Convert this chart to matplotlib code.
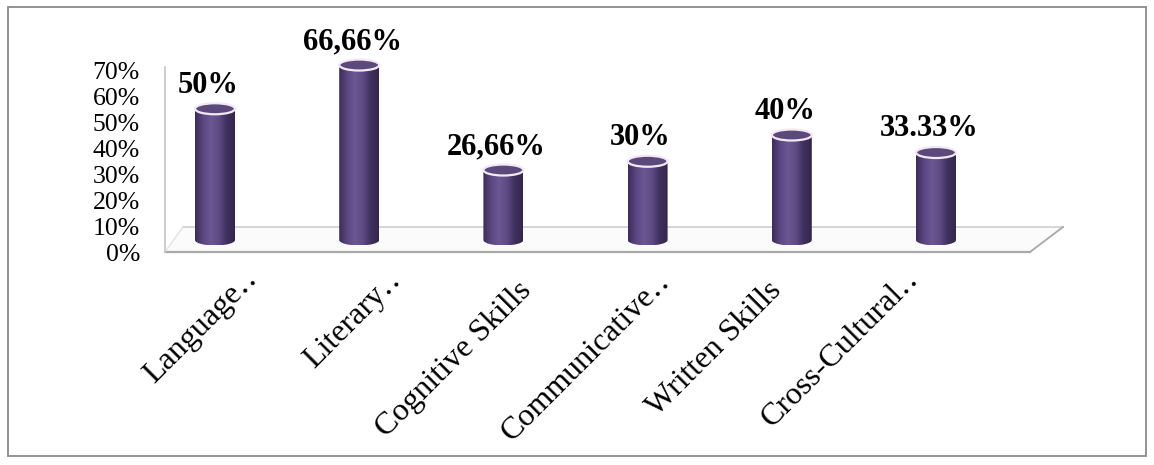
import numpy as np
import matplotlib
matplotlib.use("Agg")
import matplotlib.pyplot as plt
from matplotlib.patches import Ellipse, Polygon, Rectangle, PathPatch
from matplotlib.path import Path
from matplotlib.colors import LinearSegmentedColormap
from matplotlib.lines import Line2D
import matplotlib.transforms as mtransforms

# skills and share of answers (%)
categories = ["Language\u2025", "Literary\u2025", "Cognitive Skills",
              "Communicative\u2025", "Written Skills", "Cross-Cultural\u2025"]
values = [50, 66.66, 26.66, 30, 40, 33.33]
value_labels = ["50%", "66,66%", "26,66%", "30%", "40%", "33.33%"]
tick_values = [0, 10, 20, 30, 40, 50, 60, 70]

W, H = 1154, 465
plt.rcParams["font.family"] = ["Liberation Serif", "DejaVu Serif"]

fig = plt.figure(figsize=(W / 100, H / 100), dpi=100)
fig.patch.set_facecolor("white")


def fp(x, y):
    """pixel (from top-left) -> figure fraction"""
    return (x / W, 1 - y / H)


# outer frame
fig.add_artist(Rectangle(fp(8, 456), (1146 - 8) / W, (456 - 7) / H,
                         transform=fig.transFigure, fill=False,
                         edgecolor="#8a8a8a", lw=1.3, zorder=-2))

# floor of the 3d plot area (behind the axes)
floor = [fp(183, 227), fp(1063, 227), fp(1030, 252), fp(165, 252)]
fig.add_artist(Polygon(floor, closed=True, transform=fig.transFigure,
                       facecolor="#fbfbfb", edgecolor="none", zorder=-2))
for (a, b, c, lw) in [((183, 227), (1063, 227), "#cfcfcf", 1.2),
                      ((165, 252), (1030, 252), "#a9a9a9", 1.6),
                      ((1030, 252), (1063, 227), "#a9a9a9", 1.3),
                      ((165, 252), (183, 227), "#e2e2e2", 1.0),
                      ((165, 67), (165, 252), "#c4c4c4", 1.2)]:
    fig.add_artist(Line2D([fp(*a)[0], fp(*b)[0]], [fp(*a)[1], fp(*b)[1]],
                          transform=fig.transFigure, color=c, lw=lw, zorder=-1))

# main axes over the whole figure: bar n centred at 215 + 144.2*n px,
# 0% at 240 px from the top, 2.625 px per percent
ax = fig.add_axes([0, 0, 1, 1])
ax.set_xlim(-215 / 144.2, (W - 215) / 144.2)
ax.set_ylim(-(H - 240) / 2.625, 240 / 2.625)
ax.axis("off")

bw = 40 / 144.2      # cylinder width
eh = 11 / 2.625      # ellipse height
body_cmap = LinearSegmentedColormap.from_list(
    "cyl", ["#3b2b59", "#5a4780", "#6b5893", "#5e4b85", "#3f2f5d", "#34264f"])
grad = np.linspace(0, 1, 256).reshape(1, -1)

for i, v in enumerate(values):
    x0, x1 = i - bw / 2, i + bw / 2
    t = np.linspace(np.pi, 2 * np.pi, 60)
    pts = [(x0, v)] + list(zip(i + bw / 2 * np.cos(t), eh / 2 * np.sin(t))) + [(x1, v), (x0, v)]
    clip = PathPatch(Path(pts, closed=True), facecolor="none", edgecolor="none")
    ax.add_patch(clip)
    im = ax.imshow(grad, cmap=body_cmap, aspect="auto",
                   extent=[x0, x1, -eh / 2, v], zorder=3)
    im.set_clip_path(clip)
    ax.add_patch(Ellipse((i, v), bw, eh, facecolor="#5b497c",
                         edgecolor="#f4e8f4", lw=1.6, zorder=4))
    ax.annotate(value_labels[i], (i, v), xytext=(-5, 17), textcoords="offset points",
                ha="center", va="center", fontsize=22, fontweight="bold", color="black")

# category labels, rotated
label_dx = [43, 43, 29, 24, -9, -16]
label_y = [280, 281, 292, 282, 292, 280]
for i, name in enumerate(categories):
    off = mtransforms.ScaledTranslation(label_dx[i] / 100, 0, fig.dpi_scale_trans)
    tr = mtransforms.blended_transform_factory(ax.transData, fig.transFigure) + off
    ax.text(i, fp(0, label_y[i])[1], name, transform=tr, rotation=45,
            rotation_mode="anchor", ha="right", va="baseline", fontsize=23)

# percentage scale along the front edge
ay = fig.add_axes([165 / W, 1 - 252 / H, 0.001, (252 - 70) / H])
ay.set_ylim(0, 70)
ay.set_yticks(tick_values)
ay.set_yticklabels([f"{t}%" for t in tick_values], fontsize=18.5)
ay.tick_params(axis="y", length=0, pad=18)
ay.set_xticks([])
for s in ay.spines.values():
    s.set_visible(False)
ay.patch.set_alpha(0)

fig.savefig("out.png", dpi=100, facecolor="white")
